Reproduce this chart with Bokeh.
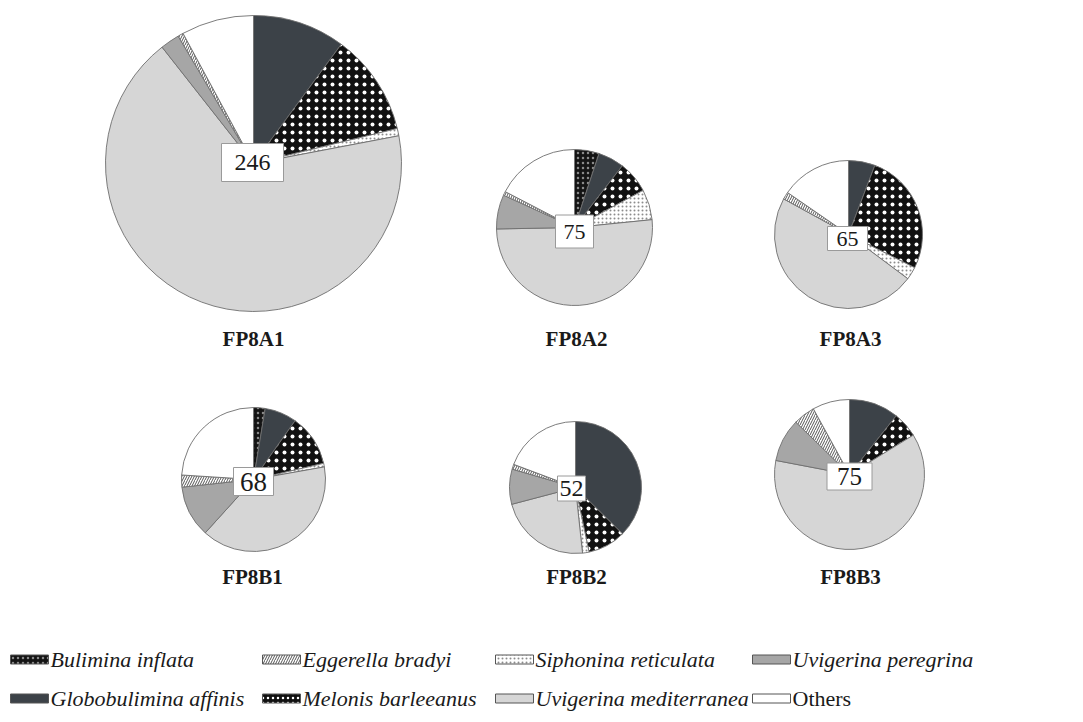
from bokeh.plotting import figure
from bokeh.models import Range1d, ColumnDataSource
from bokeh.embed import file_html
from bokeh.resources import INLINE
from bokeh.core.properties import value
import math

# ---------------- data ----------------
taxa = ["Bulimina inflata", "Globobulimina affinis", "Melonis barleeanus",
        "Siphonina reticulata", "Uvigerina mediterranea", "Uvigerina peregrina",
        "Eggerella bradyi", "Others"]
samples = ["FP8A1", "FP8A2", "FP8A3", "FP8B1", "FP8B2", "FP8B3"]
totals = [246, 75, 65, 68, 52, 75]
# relative abundance (%) of each taxon, in the order of `taxa`
fp8a1 = [0.0, 10.1, 11.1, 0.8, 67.4, 2.1, 0.6, 7.9]
fp8a2 = [5.1, 5.4, 6.6, 6.3, 51.3, 7.1, 0.8, 17.4]
fp8a3 = [0.0, 5.8, 26.6, 2.8, 47.8, 0.0, 1.6, 15.4]
fp8b1 = [2.6, 7.2, 11.6, 0.8, 39.5, 11.6, 2.7, 24.0]
fp8b2 = [0.0, 37.4, 9.3, 1.6, 22.6, 8.6, 1.2, 19.3]
fp8b3 = [0.0, 10.7, 5.5, 0.0, 61.8, 9.3, 4.7, 8.0]
series = [fp8a1, fp8a2, fp8a3, fp8b1, fp8b2, fp8b3]

# legend order (two rows x four columns)
legend_rows = [["Bulimina inflata", "Eggerella bradyi", "Siphonina reticulata", "Uvigerina peregrina"],
               ["Globobulimina affinis", "Melonis barleeanus", "Uvigerina mediterranea", "Others"]]

# ---------------- styles / layout ----------------
style = {
    "Bulimina inflata":       dict(fill="#141414", hatch=".", hcol="#8a8a8a", hscale=5.0),
    "Globobulimina affinis":  dict(fill="#3c4248", hatch=" ", hcol="#000000", hscale=6.0),
    "Melonis barleeanus":     dict(fill="#111111", hatch=".", hcol="#ffffff", hscale=8.0),
    "Siphonina reticulata":   dict(fill="#ffffff", hatch=".", hcol="#8c8c8c", hscale=4.0),
    "Uvigerina mediterranea": dict(fill="#d6d6d6", hatch=" ", hcol="#000000", hscale=6.0),
    "Uvigerina peregrina":    dict(fill="#a6a6a6", hatch=" ", hcol="#000000", hscale=6.0),
    "Eggerella bradyi":       dict(fill="#ffffff", hatch="/", hcol="#555555", hscale=5.0),
    "Others":                 dict(fill="#ffffff", hatch=" ", hcol="#000000", hscale=6.0),
}

W, H = 1083, 722
def Y(img_y):
    return H - img_y

# pie centres / radii (image pixels)
pie_x = [253, 574, 848, 253, 575, 849]
pie_y = [163, 227, 234, 479, 487, 474]
pie_r = [148, 78, 74, 72, 66, 75]
# count boxes
box_x = [252, 574, 847, 253, 571, 849]
box_y = [162, 231, 238, 481, 488, 476]
box_w = [62, 38, 40, 40, 28, 45]
box_h = [38, 33, 24, 28, 25, 27]
box_fs = ["24px", "22px", "22px", "27px", "24px", "25px"]
# sample name labels
name_x = [253, 576, 850, 252, 576, 850]
name_y = [338, 338, 338, 576, 576, 576]

p = figure(width=W, height=H, x_range=Range1d(0, W), y_range=Range1d(0, H),
           x_axis_type=None, y_axis_type=None, toolbar_location=None,
           output_backend="svg", min_border=0)
p.grid.visible = False
p.outline_line_color = None
p.background_fill_color = "white"
p.border_fill_color = "white"

# ---------------- wedges ----------------
wd = dict(x=[], y=[], r=[], start=[], end=[], fill=[], hatch=[], hcol=[], hscale=[])
for i, vals in enumerate(series):
    tot = sum(vals)
    cum = 0.0
    for t, v in zip(taxa, vals):
        if v <= 0:
            continue
        a0 = cum / tot * 2 * math.pi
        cum += v
        a1 = cum / tot * 2 * math.pi
        st = style[t]
        wd["x"].append(pie_x[i]); wd["y"].append(Y(pie_y[i])); wd["r"].append(pie_r[i])
        wd["start"].append(math.pi / 2 - a1); wd["end"].append(math.pi / 2 - a0)
        wd["fill"].append(st["fill"]); wd["hatch"].append(st["hatch"])
        wd["hcol"].append(st["hcol"]); wd["hscale"].append(st["hscale"])
src = ColumnDataSource(wd)
p.wedge(x="x", y="y", radius="r", start_angle="start", end_angle="end", source=src,
        fill_color="fill", hatch_pattern="hatch", hatch_color="hcol", hatch_scale="hscale",
        hatch_weight=1.0, line_color="#6e6e6e", line_width=0.9)

# ---------------- count boxes ----------------
bsrc = ColumnDataSource(dict(x=box_x, y=[Y(v) for v in box_y], w=box_w, h=box_h,
                             t=[str(v) for v in totals], fs=box_fs))
p.rect(x="x", y="y", width="w", height="h", source=bsrc, fill_color="white",
       line_color="#9a9a9a", line_width=1)
p.text(x="x", y="y", text="t", source=bsrc, text_align="center", text_baseline="middle",
       text_font=value("Liberation Serif"), text_font_size="fs", text_color="#1a1a1a")

# ---------------- sample names ----------------
nsrc = ColumnDataSource(dict(x=name_x, y=[Y(v) for v in name_y], t=samples))
p.text(x="x", y="y", text="t", source=nsrc, text_align="center", text_baseline="middle",
       text_font=value("Liberation Serif"), text_font_style="bold", text_font_size="21px",
       text_color="#1a1a1a")

# ---------------- legend ----------------
col_x = [10, 262, 495, 752]
row_y = [659, 698]
sw_w, sw_h = 38, 9
lg = dict(x=[], y=[], fill=[], hatch=[], hcol=[], hscale=[], tx=[], t=[], fs=[])
for r, row in enumerate(legend_rows):
    for c, t in enumerate(row):
        st = style[t]
        lg["x"].append(col_x[c] + sw_w / 2); lg["y"].append(Y(row_y[r]))
        lg["fill"].append(st["fill"]); lg["hatch"].append(st["hatch"])
        lg["hcol"].append(st["hcol"]); lg["hscale"].append(min(st["hscale"], 5.0))
        lg["tx"].append(col_x[c] + sw_w + 2); lg["t"].append(t)
        lg["fs"].append("normal" if t == "Others" else "italic")
lsrc = ColumnDataSource(lg)
p.rect(x="x", y="y", width=sw_w, height=sw_h, source=lsrc, fill_color="fill",
       hatch_pattern="hatch", hatch_color="hcol", hatch_scale="hscale", hatch_weight=1.0,
       line_color="#555555", line_width=1)
p.text(x="tx", y="y", text="t", source=lsrc, text_align="left", text_baseline="middle",
       text_font=value("Liberation Serif"), text_font_style="fs", text_font_size="22px",
       text_color="#1a1a1a")

open("out.html", "w").write(file_html(p, INLINE))
